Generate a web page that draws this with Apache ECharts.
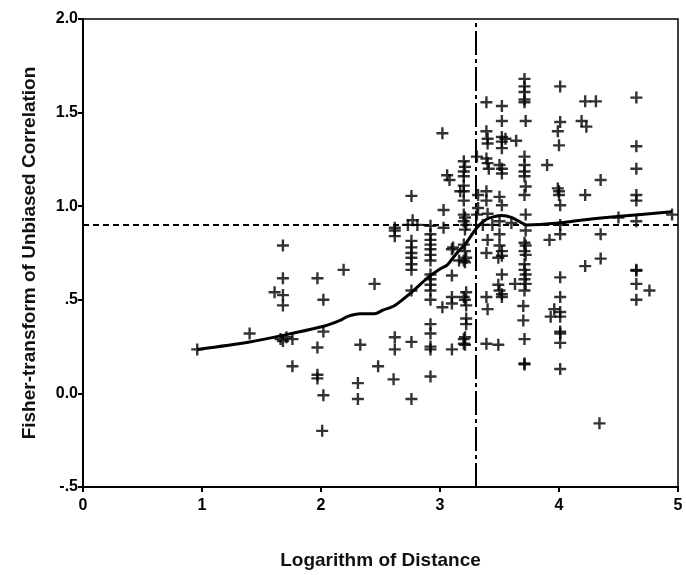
<!DOCTYPE html>
<html><head><meta charset="utf-8">
<script src="https://cdn.jsdelivr.net/npm/echarts@6/dist/echarts.min.js"></script>
<style>html,body{margin:0;padding:0;background:#fff}#c{width:686px;height:575px}</style>
</head><body><div id="c"></div>
<script>
const pointX = [0.96,1.40,1.68,1.68,1.61,1.68,1.68,1.66,1.71,1.76,1.68,1.76,
1.97,2.02,2.02,1.97,1.97,1.97,2.02,2.01,2.19,2.33,2.31,2.31,2.45,2.48,
2.62,2.62,2.62,2.62,2.62,2.61,2.76,2.73,2.77,2.81,
2.76,2.76,2.76,2.76,2.76,2.76,2.76,2.76,2.76,
2.92,2.92,2.92,2.92,2.92,2.92,2.92,2.92,2.92,2.92,2.92,2.92,2.92,2.92,2.92,2.92,2.92,
3.02,3.06,3.08,3.03,3.03,3.10,3.10,3.10,3.10,3.02,3.10,
3.20,3.21,3.20,3.20,3.20,3.17,3.20,3.20,3.20,3.21,3.20,3.22,3.21,3.20,3.11,3.21,3.22,3.21,3.20,3.22,3.20,3.21,3.22,3.22,3.22,3.21,3.20,3.20,3.21,3.16,
3.31,3.32,3.31,3.32,3.36,
3.39,3.39,3.40,3.40,3.39,3.40,3.41,3.39,3.39,3.40,3.40,3.39,3.39,3.40,3.39,
3.44,3.49,
3.52,3.52,3.52,3.52,3.52,3.50,3.52,3.52,3.50,3.52,3.50,3.50,3.50,3.52,3.52,3.49,3.52,3.49,3.50,3.52,3.52,
3.55,3.64,3.60,3.63,
3.71,3.71,3.71,3.71,3.71,3.72,3.71,3.71,3.71,3.71,3.72,3.71,3.72,3.72,3.71,3.72,3.71,3.72,3.71,3.71,3.72,3.71,3.72,3.71,3.70,3.70,3.71,3.71,3.71,
3.90,3.92,
4.01,4.01,3.99,4.00,3.99,4.00,4.00,4.01,4.01,4.01,4.01,4.01,3.96,4.01,4.01,3.93,4.01,4.01,4.01,4.01,
4.19,4.23,4.22,4.22,4.22,4.31,4.35,4.35,4.35,4.34,4.50,
4.65,4.65,4.65,4.65,4.65,4.65,4.65,4.65,4.65,4.65,4.76,4.95];
const pointY = [0.235,0.32,0.79,0.615,0.54,0.525,0.47,0.29,0.30,0.29,0.28,0.145,
0.615,0.50,0.33,0.245,0.10,0.08,-0.01,-0.2,0.66,0.26,0.055,-0.03,0.585,0.145,
0.885,0.87,0.84,0.30,0.235,0.075,1.055,0.90,0.925,0.90,
0.815,0.78,0.75,0.725,0.69,0.66,0.55,0.275,-0.03,
0.895,0.85,0.82,0.795,0.77,0.74,0.71,0.635,0.61,0.58,0.55,0.50,0.37,0.32,0.25,0.235,0.09,
1.39,1.165,1.14,0.98,0.885,0.77,0.63,0.515,0.48,0.46,0.235,
1.24,1.21,1.185,1.16,1.11,1.08,1.08,1.03,0.955,0.94,0.92,0.90,0.875,0.795,0.78,0.76,0.725,0.70,0.71,0.54,0.515,0.50,0.47,0.40,0.37,0.30,0.29,0.265,0.26,0.71,
1.265,0.99,0.955,1.06,0.90,
1.555,1.40,1.36,1.335,1.255,1.23,1.20,1.08,1.03,0.96,0.82,0.75,0.515,0.45,0.265,
0.90,0.26,
1.535,1.455,1.37,1.345,1.31,1.22,1.20,1.175,1.05,1.005,0.92,0.85,0.79,0.76,0.735,0.725,0.635,0.58,0.55,0.53,0.515,
1.36,1.35,0.91,0.585,
1.68,1.64,1.61,1.57,1.555,1.455,1.265,1.22,1.185,1.16,1.105,1.06,0.955,0.87,0.805,0.79,0.76,0.74,0.69,0.66,0.635,0.61,0.585,0.55,0.467,0.39,0.29,0.16,0.155,
1.22,0.82,
1.64,1.45,1.40,1.325,1.095,1.08,1.06,1.005,0.90,0.85,0.62,0.515,0.45,0.435,0.41,0.41,0.33,0.32,0.27,0.13,
1.455,1.425,1.56,1.06,0.68,1.56,1.14,0.85,0.72,-0.16,0.94,
1.58,1.32,1.20,1.06,1.03,0.92,0.66,0.655,0.585,0.50,0.55,0.955];
const fitX = [0.96,1.40,1.68,2.03,2.16,2.22,2.33,2.45,2.52,2.62,2.76,2.90,3.00,3.06,3.11,3.17,3.21,3.31,3.39,3.46,3.52,3.60,3.69,3.73,4.00,4.18,4.49,4.95];
const fitY = [0.235,0.275,0.31,0.36,0.39,0.41,0.425,0.425,0.445,0.47,0.54,0.62,0.665,0.685,0.725,0.77,0.795,0.885,0.93,0.945,0.95,0.94,0.91,0.90,0.91,0.925,0.945,0.97];
const refY = 0.9;
const refX = 3.3;
const yTicks = {'2':'2.0','1.5':'1.5','1':'1.0','0.5':'.5','0':'0.0','-0.5':'-.5'};

const chart = echarts.init(document.getElementById('c'));
const plus = 'path://M4,0H6V4H10V6H6V10H4V6H0V4H4Z';
const font = 'Liberation Sans, Arial, sans-serif';
chart.setOption({
  animation: false,
  backgroundColor: '#fff',
  grid: {left: 83, right: 8, top: 19, bottom: 83, show: true, borderColor: '#000', borderWidth: 1.5},
  xAxis: {
    type: 'value', min: 0, max: 5, interval: 1,
    name: 'Logarithm of Distance', nameLocation: 'middle', nameGap: 64,
    nameTextStyle: {fontFamily: font, fontSize: 19, fontWeight: 'bold', color: '#111'},
    axisLine: {show: true, onZero: false, lineStyle: {color: '#000', width: 2}},
    axisTick: {show: true, length: 5, lineStyle: {color: '#000', width: 2}},
    axisLabel: {fontFamily: font, fontSize: 16, fontWeight: 'bold', color: '#000', margin: 11},
    splitLine: {show: false}
  },
  yAxis: {
    type: 'value', min: -0.5, max: 2, interval: 0.5,
    name: 'Fisher-transform of Unbiased Correlation', nameLocation: 'middle', nameGap: 44,
    nameTextStyle: {fontFamily: font, fontSize: 19, fontWeight: 'bold', color: '#111'},
    axisLine: {show: true, onZero: false, lineStyle: {color: '#000', width: 2}},
    axisTick: {show: true, length: 5, lineStyle: {color: '#000', width: 2}},
    axisLabel: {fontFamily: font, fontSize: 16, fontWeight: 'bold', color: '#000', margin: 5,
      formatter: v => yTicks[String(v)] ?? String(v)},
    splitLine: {show: false}
  },
  series: [
    {
      type: 'scatter', symbol: plus, symbolSize: 12,
      itemStyle: {color: '#000'},
      data: pointX.map((x, i) => [x, pointY[i]]),
      z: 3
    },
    {
      type: 'line', showSymbol: false, symbol: 'none', smooth: 0.3,
      lineStyle: {color: '#000', width: 3},
      data: fitX.map((x, i) => [x, fitY[i]]),
      z: 4,
      markLine: {
        silent: true, symbol: 'none', label: {show: false},
        data: [
          {yAxis: refY, lineStyle: {color: '#000', width: 2, type: [6, 4]}},
          {xAxis: refX, lineStyle: {color: '#000', width: 2, type: [24, 4, 4, 4]}}
        ]
      }
    }
  ]
});
</script></body></html>
